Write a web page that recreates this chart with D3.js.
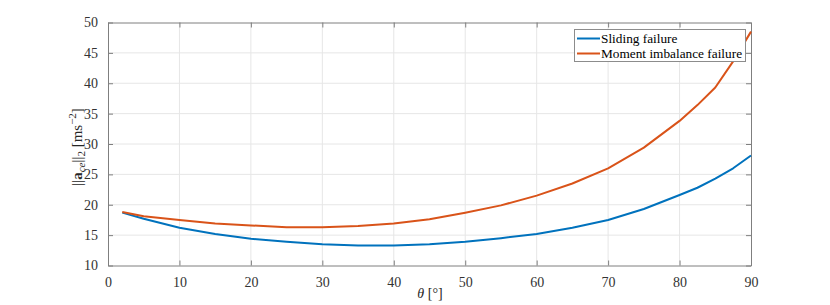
<!DOCTYPE html>
<html>
<head>
<meta charset="utf-8">
<script src="https://cdn.jsdelivr.net/npm/d3@7"></script>
<style>
  body { margin: 0; background: #fff; }
  svg text { font-family: "Liberation Serif", "Times New Roman", serif !important; }
</style>
</head>
<body>
<div id="viz"></div>
<script>
// angle in degrees
const theta = [2, 5, 10, 15, 20, 25, 30, 35, 40, 45, 50, 55, 60, 65, 70, 75, 80, 82.5, 85, 87.5, 90];
const sliding = [18.7, 17.7, 16.2, 15.2, 14.4, 13.9, 13.5, 13.3, 13.3, 13.5, 13.9, 14.5, 15.2, 16.2, 17.5, 19.3, 21.6, 22.8, 24.3, 26.0, 28.1];
const moment = [18.8, 18.1, 17.5, 16.9, 16.6, 16.3, 16.3, 16.5, 16.9, 17.6, 18.7, 19.9, 21.5, 23.5, 26.0, 29.4, 33.8, 36.4, 39.3, 43.6, 48.5];
const seriesNames = ["Sliding failure", "Moment imbalance failure"];
const colors = ["#0072BD", "#D95319"];
const xTicks = [0, 10, 20, 30, 40, 50, 60, 70, 80, 90];
const yTicks = [10, 15, 20, 25, 30, 35, 40, 45, 50];

const width = 830, height = 305;
const mLeft = 108, mRight = 751, mTop = 22.5, mBottom = 265.5;

const svg = d3.select("#viz").append("svg")
    .attr("width", width)
    .attr("height", height);

const x = d3.scaleLinear().domain([0, 90]).range([mLeft, mRight]);
const y = d3.scaleLinear().domain([10, 50]).range([mBottom, mTop]);

// grid
svg.append("g").selectAll("line").data(xTicks.slice(1, -1)).join("line")
    .attr("x1", d => x(d)).attr("x2", d => x(d))
    .attr("y1", mTop).attr("y2", mBottom)
    .attr("stroke", "#e6e6e6").attr("stroke-width", 1);
svg.append("g").selectAll("line").data(yTicks.slice(1, -1)).join("line")
    .attr("x1", mLeft).attr("x2", mRight)
    .attr("y1", d => y(d)).attr("y2", d => y(d))
    .attr("stroke", "#e6e6e6").attr("stroke-width", 1);

// axes (ticks pointing in, MATLAB style)
const axisColor = "#7f7f7f";
function styleAxis(g) {
    g.attr("font-family", "Liberation Serif");
    g.select(".domain").attr("stroke", axisColor);
    g.selectAll(".tick line").attr("stroke", axisColor);
    g.selectAll(".tick text")
        .attr("fill", "#333")
        .attr("font-size", "14px")
        .style("font-family", "'Liberation Serif', serif");
}

svg.append("g")
    .attr("transform", `translate(0,${mBottom})`)
    .call(d3.axisBottom(x).tickValues(xTicks).tickSizeInner(-5).tickSizeOuter(0).tickPadding(12))
    .call(styleAxis);
svg.append("g")
    .attr("transform", `translate(0,${mTop})`)
    .call(d3.axisTop(x).tickValues(xTicks).tickSizeInner(-5).tickSizeOuter(0).tickFormat(""))
    .call(styleAxis);
svg.append("g")
    .attr("transform", `translate(${mLeft},0)`)
    .call(d3.axisLeft(y).tickValues(yTicks).tickSizeInner(-5).tickSizeOuter(0).tickPadding(10))
    .call(styleAxis);
svg.append("g")
    .attr("transform", `translate(${mRight},0)`)
    .call(d3.axisRight(y).tickValues(yTicks).tickSizeInner(-5).tickSizeOuter(0).tickFormat(""))
    .call(styleAxis);

// lines
const allSeries = [sliding, moment];
const line = d3.line()
    .x((d, i) => x(theta[i]))
    .y(d => y(d));
svg.append("g").selectAll("path").data(allSeries).join("path")
    .attr("d", d => line(d))
    .attr("fill", "none")
    .attr("stroke", (d, i) => colors[i])
    .attr("stroke-width", 2)
    .attr("stroke-linejoin", "round");

// legend
const legend = svg.append("g");
legend.append("rect")
    .attr("x", 574.5).attr("y", 29.5)
    .attr("width", 171).attr("height", 32)
    .attr("fill", "#fff").attr("stroke", "#8c8c8c").attr("stroke-width", 1);
seriesNames.forEach((name, i) => {
    const ly = 38.5 + i * 15;
    legend.append("line")
        .attr("x1", 577).attr("x2", 600)
        .attr("y1", ly).attr("y2", ly)
        .attr("stroke", colors[i]).attr("stroke-width", 2);
    legend.append("text")
        .attr("x", 601).attr("y", ly + 4.5)
        .attr("font-size", "13.3px")
        .attr("fill", "#000")
        .text(name);
});

// x label
const xl = svg.append("text")
    .attr("x", 430).attr("y", 298)
    .attr("text-anchor", "middle")
    .attr("font-size", "14px")
    .attr("fill", "#262626");
xl.append("tspan").attr("font-style", "italic").text("θ");
xl.append("tspan").text(" [°]");

// y label
const yl = svg.append("text")
    .attr("transform", "translate(82,147) rotate(-90)")
    .attr("text-anchor", "middle")
    .attr("font-size", "15px")
    .attr("fill", "#262626");
yl.append("tspan").text("||");
yl.append("tspan").attr("font-weight", "bold").text("a");
yl.append("tspan").attr("font-style", "italic").attr("font-size", "11px").attr("dy", 3).text("ce");
yl.append("tspan").attr("dy", -3).text("||");
yl.append("tspan").attr("font-size", "11px").attr("dy", 3).text("2");
yl.append("tspan").attr("dy", -3).text(" [ms");
yl.append("tspan").attr("font-size", "11px").attr("dy", -6).text("−2");
yl.append("tspan").attr("dy", 6).text("]");
</script>
</body>
</html>
